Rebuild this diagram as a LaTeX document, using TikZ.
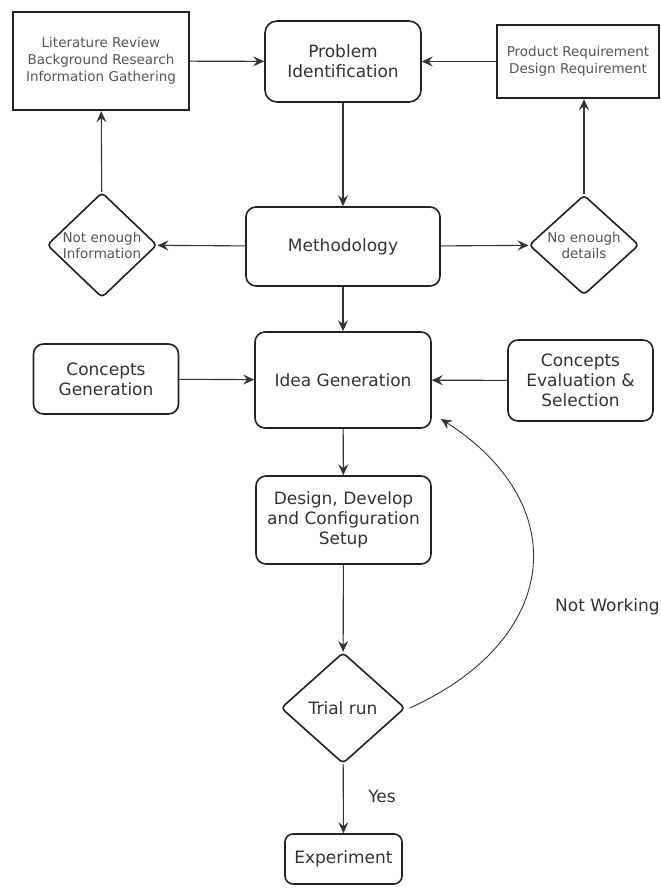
\documentclass[tikz,border=0pt]{standalone}
\usepackage{fontspec}
\setmainfont{DejaVu Sans}
\usetikzlibrary{shapes.geometric,arrows.meta}
\definecolor{boxline}{HTML}{222222}
\definecolor{txt}{HTML}{333333}
\definecolor{lighttxt}{HTML}{555555}
\definecolor{wire}{HTML}{333333}
\tikzset{
  proc/.style={draw=boxline, line width=1.6pt, rounded corners=10pt, rectangle, align=center,
    text=txt, inner sep=0pt, font=\fontsize{17}{20}\selectfont},
  note/.style={draw=boxline, line width=2.4pt, rectangle, align=center,
    text=lighttxt, inner sep=0pt, font=\fontsize{13.5}{17}\selectfont},
  dec/.style={draw=boxline, line width=1.6pt, diamond, rounded corners=4pt, align=center,
    text=lighttxt, inner sep=0pt, font=\fontsize{13.5}{16}\selectfont},
  conn/.style={draw=wire, line width=1.1pt, -{Stealth[length=11pt,width=10pt,inset=4pt]}},
  lbl/.style={text=txt, inner sep=0pt, font=\fontsize{17}{20}\selectfont}
}
\begin{document}
\begin{tikzpicture}[x=1pt,y=-1pt]
\useasboundingbox (0,0) rectangle (661,889);
\fill[white] (0,0) rectangle (661,889);

\node[note, minimum width=176pt, minimum height=98pt] (lit) at (101,61) {Literature Review\\Background Research\\Information Gathering};
\node[proc, minimum width=156pt, minimum height=81pt, rounded corners=12pt] (prob) at (343,61.5) {Problem\\Identification};
\node[note, minimum width=162pt, minimum height=73pt] (prod) at (578,61.5) {Product Requirement\\Design Requirement};

\node[dec, minimum width=110pt, minimum height=100pt] (noinfo) at (102,245) {Not enough\\Information};
\node[proc, minimum width=194pt, minimum height=79pt] (meth) at (343,246.5) {Methodology};
\node[dec, minimum width=110pt, minimum height=96pt] (nodet) at (584,245) {No enough\\details};

\node[proc, minimum width=145pt, minimum height=70pt] (cgen) at (106,379) {Concepts\\Generation};
\node[proc, minimum width=176pt, minimum height=96pt] (idea) at (343,380) {Idea Generation};
\node[proc, minimum width=145pt, minimum height=81pt] (ceval) at (580.5,380.5) {Concepts\\Evaluation \&\\Selection};

\node[proc, minimum width=175pt, minimum height=88pt] (design) at (343.5,520) {Design, Develop\\and Configuration\\Setup};
\node[dec, minimum width=124pt, minimum height=111pt, text=txt, font=\fontsize{17}{20}\selectfont] (trial) at (343,708) {Trial run};
\node[proc, minimum width=117pt, minimum height=50pt, rounded corners=8pt] (exp) at (343.5,859) {Experiment};

\node[lbl, anchor=west] (nw) at (555,607) {Not Working};
\node[lbl] (yes) at (382,796) {Yes};

\coordinate (tip) at (441,419);

\draw[conn] (lit) -- (prob);
\draw[conn] (prod) -- (prob);
\draw[conn] (prob) -- (meth);
\draw[conn] (meth) -- (noinfo);
\draw[conn] (meth) -- (nodet);
\draw[conn] (noinfo) -- (lit);
\draw[conn] (nodet.north) -- (nodet.north |- prod.south);
\draw[conn] (meth) -- (idea);
\draw[conn] (cgen) -- (idea);
\draw[conn] (ceval) -- (idea);
\draw[conn] (idea) -- (design);
\draw[conn] (design) -- (trial);
\draw[conn] (trial) -- (exp);
\draw[conn, line width=0.9pt] ([xshift=4pt]trial.east) .. controls (560,640) and (575,505) .. (tip);
\end{tikzpicture}
\end{document}
